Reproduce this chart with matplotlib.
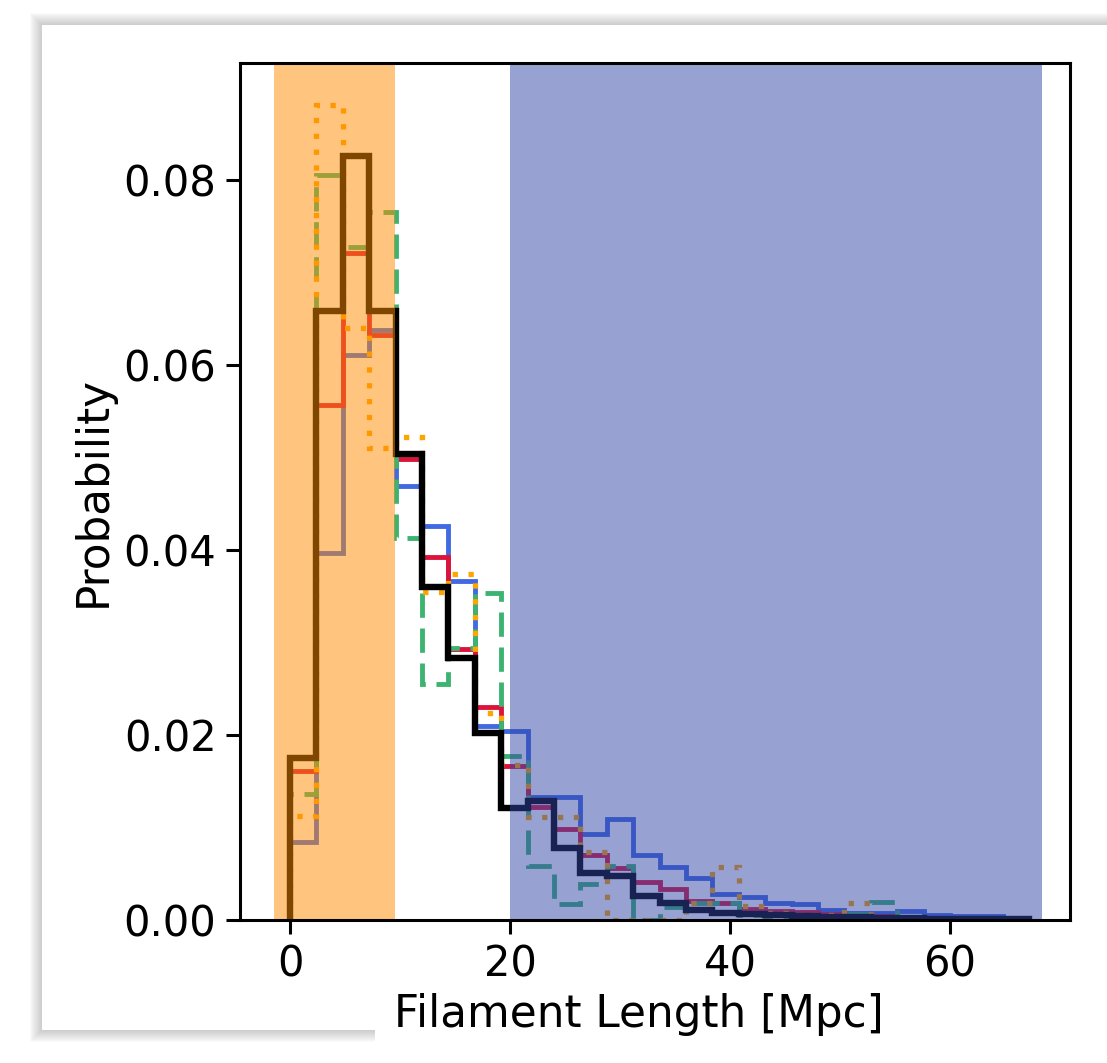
import numpy as np
import matplotlib
matplotlib.use('Agg')
import matplotlib.pyplot as plt
from matplotlib.patches import Polygon

# bin edges (Mpc) and per-bin probability density of each sample
edges = np.arange(29) * 2.4
centers = (edges[:-1] + edges[1:]) / 2

blue = [0.0084, 0.0397, 0.0610, 0.0638, 0.0469, 0.0426, 0.0366, 0.0210, 0.0204, 0.0133,
        0.0133, 0.0093, 0.0109, 0.0070, 0.0057, 0.0045, 0.0028, 0.0025, 0.0018, 0.0017,
        0.0011, 0.0008, 0.0008, 0.0010, 0.0005, 0.0004, 0.0004, 0.0]
red = [0.0161, 0.0557, 0.0721, 0.0632, 0.0498, 0.0392, 0.0293, 0.0230, 0.0166, 0.0122,
       0.0098, 0.0070, 0.0056, 0.0041, 0.0033, 0.0021, 0.0018, 0.0012, 0.0010, 0.0009,
       0.0006, 0.0005, 0.0004, 0.0003, 0.0002, 0.0002, 0.0001, 0.0001]
green = [0.0136, 0.0805, 0.0727, 0.0765, 0.0413, 0.0255, 0.0294, 0.0353, 0.0177, 0.0058,
         0.0017, 0.0039, 0.0058, 0.0, 0.0014, 0.0018, 0.0018, 0.0005, 0.0, 0.0,
         0.0, 0.0007, 0.0019, 0.0, 0.0, 0.0, 0.0, 0.0]
orange = [0.0112, 0.0881, 0.0640, 0.0510, 0.0522, 0.0354, 0.0374, 0.0224, 0.0168, 0.0111,
          0.0111, 0.0074, 0.0, 0.0, 0.0, 0.0018, 0.0057, 0.0015, 0.0008, 0.0005,
          0.0005, 0.0018, 0.0, 0.0, 0.0, 0.0, 0.0, 0.0]
black = [0.0175, 0.0658, 0.0825, 0.0658, 0.0504, 0.0360, 0.0283, 0.0202, 0.0121, 0.0129,
         0.0078, 0.0051, 0.0048, 0.0026, 0.0018, 0.0011, 0.0008, 0.0006, 0.0005, 0.0004,
         0.0003, 0.0003, 0.0002, 0.0002, 0.0001, 0.0001, 0.0001, 0.0001]

short_range = (-1.5, 9.5)
long_range = (20, 68.4)

W, H = 1107, 1063
fig = plt.figure(figsize=(W / 100, H / 100), dpi=100)

# screenshot-like card with a soft shadow
bg = fig.add_axes([0, 0, 1, 1], zorder=-10)
bg.set_xlim(0, W)
bg.set_ylim(H, 0)
bg.axis('off')
def card(grow):
    return [(42 - grow, 25 - grow), (W + 20, 25 - grow), (W + 20, H + 20),
            (375 + grow, H + 20), (375 + grow, 1030 + grow), (42 - grow, 1030 + grow)]
for k in range(12, 0, -1):
    bg.add_patch(Polygon(card(k), closed=True, facecolor='gray', edgecolor='none', alpha=0.035))
bg.add_patch(Polygon(card(0), closed=True, facecolor='white', edgecolor='none'))

ax = fig.add_axes([240 / W, 1 - 920 / H, 830 / W, 857 / H])
ax.patch.set_alpha(0)

ax.hist(centers, bins=edges, weights=blue, histtype='step', color='royalblue', lw=3.5, zorder=2)
ax.hist(centers, bins=edges, weights=red, histtype='step', color='crimson', lw=3.5, zorder=2)
ax.hist(centers, bins=edges, weights=green, histtype='step', color='mediumseagreen', lw=3.5,
        linestyle=(0, (5, 2.2)), zorder=2)
ax.hist(centers, bins=edges, weights=orange, histtype='step', color='orange', lw=3.8,
        linestyle=(0, (1, 2.0)), zorder=2)
ax.hist(centers, bins=edges, weights=black, histtype='step', color='black', lw=4.6, zorder=2)

# selection windows shaded over the histograms
ax.axvspan(*short_range, color='darkorange', alpha=0.5, lw=0, zorder=5)
ax.axvspan(*long_range, color='#3147a7', alpha=0.5, lw=0, zorder=5)

ax.set_xlim(-4.55, 70.9)
ax.set_ylim(0, 0.0926)
ax.set_xticks([0, 20, 40, 60])
ax.set_yticks([0, 0.02, 0.04, 0.06, 0.08])
ax.set_yticklabels(['0.00', '0.02', '0.04', '0.06', '0.08'])
ax.tick_params(labelsize=30, length=10, width=2.2, pad=7)
for s in ax.spines.values():
    s.set_linewidth(2.2)
    s.set_zorder(6)
ax.set_xlabel('Filament Length [Mpc]', fontsize=31.5)
ax.set_ylabel('Probability', fontsize=31.5, labelpad=6)
ax.xaxis.set_label_coords(0.48, -0.085)

fig.savefig('out.png', dpi=100)
